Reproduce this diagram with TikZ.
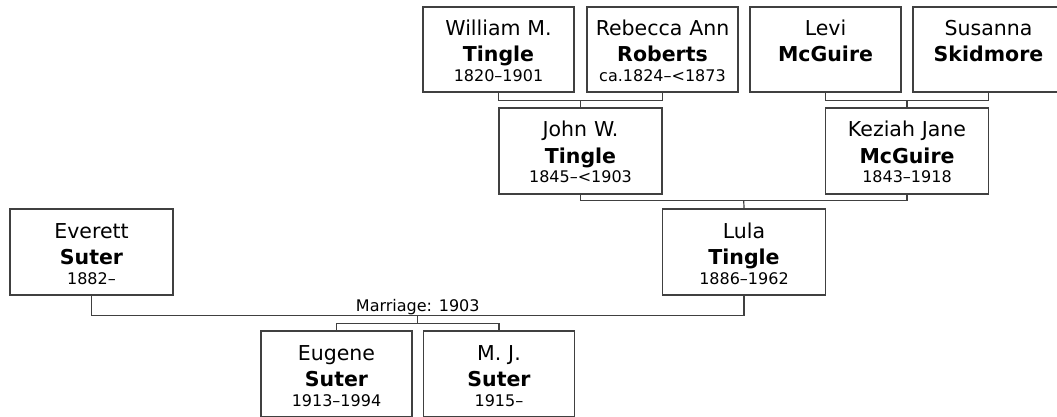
\documentclass[tikz,border=0pt]{standalone}
\usepackage{fontspec}
\setmainfont{DejaVu Sans}
\usetikzlibrary{calc}
\newcommand{\nombre}{\fontsize{20.5}{26}\selectfont}
\newcommand{\fecha}{\fontsize{16}{20}\selectfont}

\begin{document}
\begin{tikzpicture}[x=1pt, y=-1pt,
    persona/.style={draw=black!75, line width=1.3pt, align=center, font=\nombre,
      inner xsep=0pt, inner ysep=0pt, text height=29pt, text depth=56pt,
      text width=151pt},
    ancha/.style={persona, text width=163pt, text depth=57pt},
    baja/.style={persona, text depth=57pt},
    linea/.style={draw=black!75, line width=1.2pt}]
    \useasboundingbox (0,0) rectangle (1057,417);
    \clip (0,0) rectangle (1057,417);

    % Bisabuelos
    \node[persona] (william) at (498.5,49.5) {William M.\\\textbf{Tingle}\\[-6pt]{\fecha 1820--1901}};
    \node[persona] (rebecca) at (662.5,49.5) {Rebecca Ann\\\textbf{Roberts}\\[-6pt]{\fecha ca.1824--<1873}};
    \node[persona] (levi) at (825.5,49.5) {Levi\\\textbf{McGuire}};
    \node[persona] (susanna) at (988.5,49.5) {Susanna\\\textbf{Skidmore}};

    % Abuelos
    \node[ancha] (john) at (580.5,151) {John W.\\\textbf{Tingle}\\[-6pt]{\fecha 1845--<1903}};
    \node[ancha] (keziah) at (907,151) {Keziah Jane\\\textbf{McGuire}\\[-6pt]{\fecha 1843--1918}};

    % Padres
    \node[ancha] (everett) at (91.5,252) {Everett\\\textbf{Suter}\\[-6pt]{\fecha 1882--}};
    \node[ancha] (lula) at (744,252) {Lula\\\textbf{Tingle}\\[-6pt]{\fecha 1886--1962}};

    % Hijos
    \node[baja] (eugene) at (336.5,374) {Eugene\\\textbf{Suter}\\[-6pt]{\fecha 1913--1994}};
    \node[baja] (mj) at (499,374) {M. J.\\\textbf{Suter}\\[-6pt]{\fecha 1915--}};

    % Uniones
    \coordinate (wr) at ($(william.south)!0.5!(rebecca.south) + (0,8)$);
    \coordinate (ls) at ($(levi.south)!0.5!(susanna.south) + (0,8)$);
    \coordinate (jk) at ($(john.south)!0.5!(keziah.south) + (0,6)$);
    \coordinate (el) at ($(everett.south)!0.5!(lula.south) + (0,20)$);
    \coordinate (hijos) at ($(el) + (0,8)$);

    \draw[linea] (william.south) |- (wr) -| (rebecca.south);
    \draw[linea] (wr) -- (john.north);
    \draw[linea] (levi.south) |- (ls) -| (susanna.south);
    \draw[linea] (ls) -- (keziah.north);
    \draw[linea] (john.south) |- (jk) -| (keziah.south);
    \draw[linea] (jk) -- (lula.north);
    \draw[linea] (everett.south) |- (el) -| (lula.south);
    \node[font=\fecha, above, inner sep=1pt] (boda) at (el) {Marriage: 1903};
    \draw[linea] (el) -- (hijos);
    \draw[linea] (eugene.north) |- (hijos) -| (mj.north);
\end{tikzpicture}
\end{document}
